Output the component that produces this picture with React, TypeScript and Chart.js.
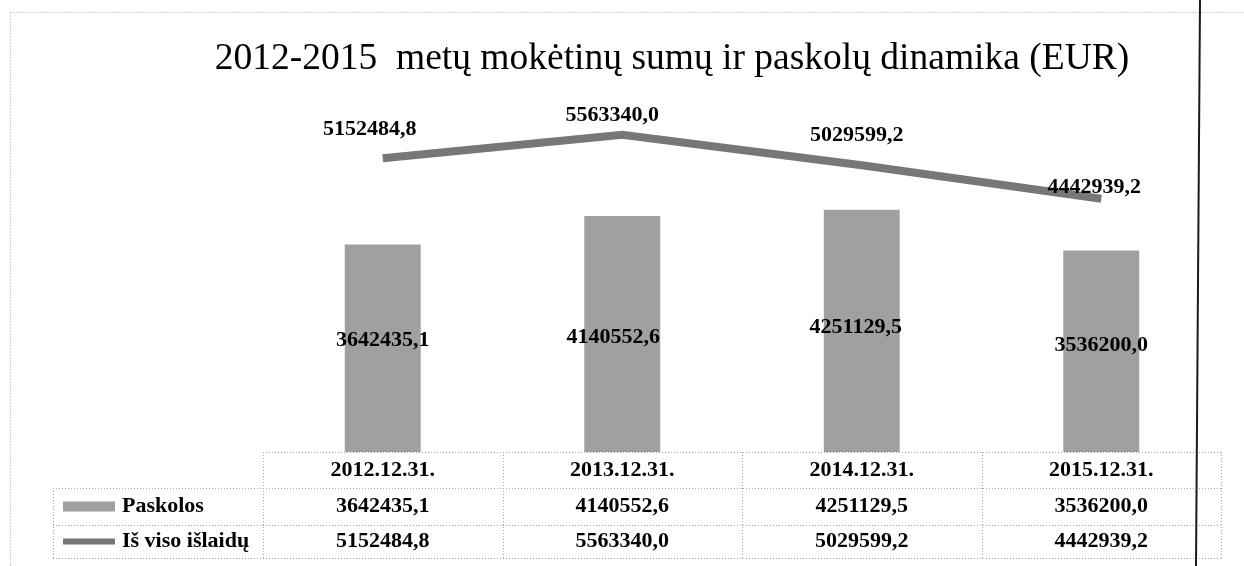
import React, { useEffect, useRef } from "react";
import { Chart, registerables } from "chart.js";

Chart.register(...registerables);

const categories = ["2012.12.31.", "2013.12.31.", "2014.12.31.", "2015.12.31."];
const loans = [3642435.1, 4140552.6, 4251129.5, 3536200.0];
const totalSpending = [5152484.8, 5563340.0, 5029599.2, 4442939.2];
const seriesNames = ["Paskolos", "Iš viso išlaidų"];
const chartTitle = "2012-2015  metų mokėtinų sumų ir paskolų dinamika (EUR)";
const yMin = 0;
const yMax = 6000000;

// label nudges (px) relative to default anchor
const lineLabelNudge = [[-13, -29], [-10, -20], [-5, -30], [-7, -11]];
const barLabelNudge = [[0, -8], [-9, 3], [-6, -4], [0, -6]];

const BAR_COLOR = "#a0a0a0";
const LINE_COLOR = "#777777";
const FONT = '"Liberation Serif", "Times New Roman", serif';
const fmt = (v: number) => v.toFixed(1).replace(".", ",");

const decorPlugin = {
  id: "decor",
  afterDatasetsDraw(chart: any) {
    const ctx = chart.ctx as CanvasRenderingContext2D;
    const xs = chart.scales.x;
    const ys = chart.scales.y;
    ctx.save();
    ctx.fillStyle = "#000";
    ctx.font = `bold 22px ${FONT}`;
    ctx.textAlign = "center";
    ctx.textBaseline = "middle";
    // bar labels (centered in bar)
    loans.forEach((v, i) => {
      const x = xs.getPixelForValue(i);
      const yTop = ys.getPixelForValue(v);
      const yBot = ys.getPixelForValue(0);
      const [dx, dy] = barLabelNudge[i];
      ctx.fillText(fmt(v), x + dx, (yTop + yBot) / 2 + dy);
    });
    // line labels (above point)
    totalSpending.forEach((v, i) => {
      const x = xs.getPixelForValue(i);
      const y = ys.getPixelForValue(v);
      const [dx, dy] = lineLabelNudge[i];
      ctx.fillText(fmt(v), x + dx, y + dy);
    });
    ctx.restore();
  },
  afterDraw(chart: any) {
    const ctx = chart.ctx as CanvasRenderingContext2D;
    const xs = chart.scales.x;
    const area = chart.chartArea;
    ctx.save();

    // title
    ctx.fillStyle = "#000";
    ctx.font = `37.5px ${FONT}`;
    ctx.textAlign = "center";
    ctx.textBaseline = "alphabetic";
    ctx.fillText(chartTitle, 672, 69);

    // outer dotted border of chart
    ctx.strokeStyle = "#a8a8a8";
    ctx.lineWidth = 1;
    ctx.setLineDash([1, 2]);
    ctx.beginPath();
    ctx.moveTo(10.5, 12.5);
    ctx.lineTo(1244, 12.5);
    ctx.moveTo(10.5, 12.5);
    ctx.lineTo(10.5, 566);
    ctx.stroke();

    // data table
    const step = (xs.getPixelForValue(1) - xs.getPixelForValue(0));
    const left = area.left;
    const right = area.right;
    const rows = [area.bottom, area.bottom + 36, area.bottom + 73, area.bottom + 106];
    const legendLeft = 53;
    ctx.beginPath();
    ctx.moveTo(left, rows[0] + 0.5);
    ctx.lineTo(right, rows[0] + 0.5);
    for (let r = 1; r < rows.length; r++) {
      ctx.moveTo(legendLeft, rows[r] + 0.5);
      ctx.lineTo(right, rows[r] + 0.5);
    }
    ctx.moveTo(legendLeft + 0.5, rows[1]);
    ctx.lineTo(legendLeft + 0.5, rows[3]);
    for (let i = 0; i <= categories.length; i++) {
      const x = Math.round(xs.getPixelForValue(i) - step / 2) + 0.5;
      ctx.moveTo(x, rows[0]);
      ctx.lineTo(x, rows[3]);
    }
    ctx.stroke();
    ctx.setLineDash([]);

    ctx.fillStyle = "#000";
    ctx.font = `bold 22px ${FONT}`;
    ctx.textAlign = "center";
    ctx.textBaseline = "middle";
    const mid = (r: number) => (rows[r] + rows[r + 1]) / 2;
    categories.forEach((c, i) => {
      const x = xs.getPixelForValue(i);
      ctx.fillText(c, x, mid(0));
      ctx.fillText(fmt(loans[i]), x, mid(1));
      ctx.fillText(fmt(totalSpending[i]), x, mid(2));
    });

    // legend keys in table
    ctx.fillStyle = BAR_COLOR;
    ctx.fillRect(63, mid(1) - 5, 52, 10);
    ctx.fillStyle = LINE_COLOR;
    ctx.fillRect(63, mid(2) - 3, 52, 6);
    ctx.fillStyle = "#000";
    ctx.textAlign = "left";
    ctx.fillText(seriesNames[0], 122, mid(1));
    ctx.fillText(seriesNames[1], 122, mid(2));

    // scanned page edge line
    ctx.strokeStyle = "#1a1a1a";
    ctx.lineWidth = 2;
    ctx.beginPath();
    ctx.moveTo(1200, 0);
    ctx.lineTo(1196, 566);
    ctx.stroke();

    ctx.restore();
  },
};

export default function App() {
  const ref = useRef<HTMLCanvasElement | null>(null);
  useEffect(() => {
    if (!ref.current) return;
    const chart = new Chart(ref.current, {
      type: "bar",
      data: {
        labels: categories,
        datasets: [
          {
            type: "line",
            label: seriesNames[1],
            data: totalSpending,
            borderColor: LINE_COLOR,
            backgroundColor: LINE_COLOR,
            borderWidth: 8,
            pointRadius: 0,
            tension: 0,
            order: 0,
          } as any,
          {
            type: "bar",
            label: seriesNames[0],
            data: loans,
            backgroundColor: BAR_COLOR,
            borderWidth: 0,
            categoryPercentage: 1,
            barPercentage: 0.317,
            order: 1,
          },
        ],
      },
      options: {
        responsive: false,
        animation: false,
        layout: { padding: { left: 263, right: 23, top: 110, bottom: 114 } },
        plugins: { legend: { display: false }, title: { display: false }, tooltip: { enabled: false } },
        scales: {
          x: { display: false, offset: true },
          y: { display: false, min: yMin, max: yMax },
        },
      },
      plugins: [decorPlugin],
    });
    return () => chart.destroy();
  }, []);
  return (
    <div style={{ position: "absolute", left: 0, top: 0, width: 1244, height: 566, background: "#fff" }}>
      <canvas ref={ref} width={1244} height={566} style={{ display: "block" }} />
    </div>
  );
}
